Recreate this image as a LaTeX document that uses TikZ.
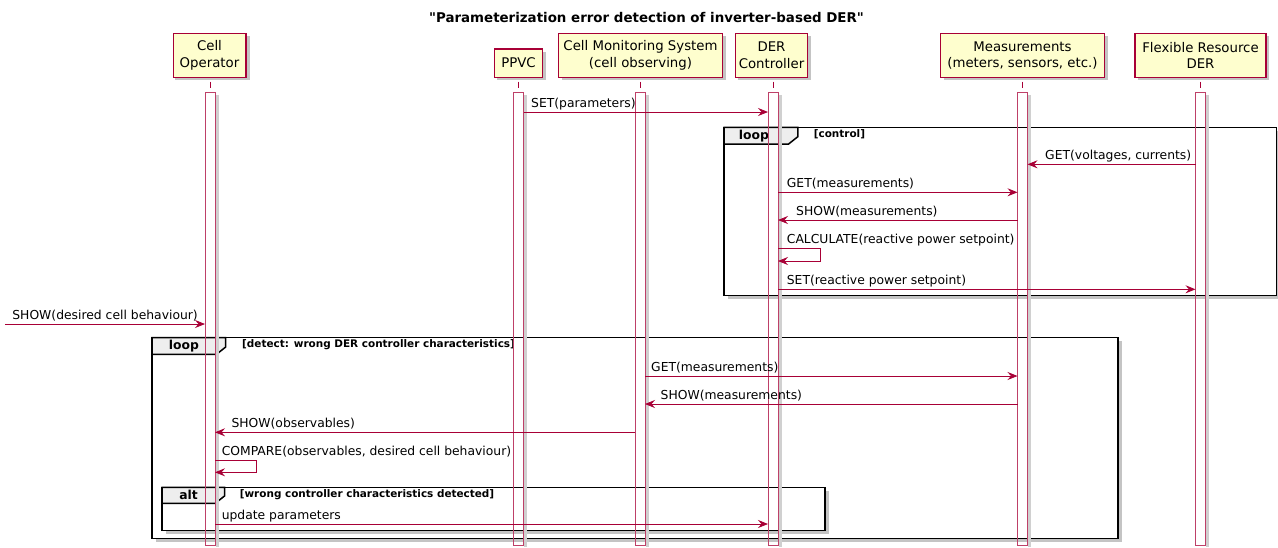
\documentclass[tikz,border=0pt]{standalone}
\usepackage{fontspec}
\setmainfont{DejaVu Sans}[Ligatures=TeXOff]
\usetikzlibrary{arrows.meta}
\definecolor{pu}{RGB}{168,0,54}
\definecolor{pfill}{RGB}{254,254,206}
\definecolor{tabfill}{RGB}{238,238,238}
\definecolor{shd}{RGB}{196,196,196}
\definecolor{barshd}{RGB}{208,208,208}
\begin{document}
\begin{tikzpicture}[x=1pt,y=-1pt,
  part/.style={draw=pu, color=pu, line width=1.4pt, fill=pfill, align=center, inner sep=0pt,
    font=\fontsize{13.3}{16.3}\selectfont, text=black},
  partshadow/.style={fill=shd, draw=none, inner sep=0pt},
  msg/.style={draw=pu, color=pu, line width=0.8pt, -{Stealth[length=10pt,width=8pt,inset=3.5pt]}},
  lbl/.style={font=\fontsize{12.35}{14}\selectfont, anchor=base west, inner sep=0pt, text=black},
  barbox/.style={draw=pu!75, line width=1pt},
  barshadow/.style={fill=barshd, draw=none},
  lifedash/.style={draw=pu, color=pu, line width=0.8pt},
  frm/.style={draw=black, line width=1.5pt, fill=white},
  frmshadow/.style={fill=shd, draw=none},
  tabbox/.style={draw=black, line width=1.5pt, fill=tabfill},
  kw/.style={font=\bfseries\fontsize{12.35}{14}\selectfont, anchor=base, inner sep=0pt},
  guard/.style={font=\bfseries\fontsize{10.45}{12}\selectfont, anchor=base west, inner sep=0pt},
  ttl/.style={font=\bfseries\fontsize{13.4}{16}\selectfont, anchor=base, inner sep=0pt}
]
\useasboundingbox (0,0) rectangle (1278,547);

% title
\node[ttl] (title) at (646.5,22.5) {"Parameterization error detection of inverter-based DER"};

% participant shadows
\fill[partshadow] (175.2,36.3) rectangle (249.8,80.3);
\fill[partshadow] (497.3,52) rectangle (545.7,80.3);
\fill[partshadow] (561.5,36.3) rectangle (725.5,80.3);
\fill[partshadow] (738.3,36.3) rectangle (810.7,80.3);
\fill[partshadow] (943.5,36.3) rectangle (1107.5,80.3);
\fill[partshadow] (1138,36.3) rectangle (1269,80.3);

% participants
\node[part, minimum width=72.6pt, minimum height=44pt] (co) at (209.5,55.3) {Cell\\Operator};
\node[part, minimum width=48.4pt, minimum height=28.3pt] (pp) at (518.5,63.15) {PPVC};
\node[part, minimum width=164pt, minimum height=44pt] (cms) at (640.5,55.3) {Cell Monitoring System\\(cell observing)};
\node[part, minimum width=72.4pt, minimum height=44pt] (der) at (771.5,55.3) {DER\\Controller};
\node[part, minimum width=164pt, minimum height=44pt] (meas) at (1022.5,55.3) {Measurements\\(meters, sensors, etc.)};
\node[part, minimum width=131pt, minimum height=44pt] (flex) at (1200.5,55.3) {Flexible Resource\\DER};

% frames (below bars)
\fill[frmshadow] (727.5,130.8) rectangle (1281,299.2);
\draw[frm] (724,127.3) rectangle (1276.5,295.7);
\draw[tabbox] (724,127.3) -- (797.8,127.3) -- (797.8,136.7) -- (788.6,144) -- (724,144) -- cycle;
\node[kw] (kwA) at (754,139) {loop};
\node[guard] (gA) at (813.6,137) {[control]};

\fill[frmshadow] (155.5,341.2) rectangle (1121.5,541.8);
\draw[frm] (152,337.7) rectangle (1118,538.3);
\draw[tabbox] (152,337.7) -- (225.7,337.7) -- (225.7,347) -- (216.5,354.3) -- (152,354.3) -- cycle;
\node[kw] (kwB) at (184,349.4) {loop};
\node[guard] (gB) at (242,347.4) {[detect: wrong DER controller characteristics]};

\fill[frmshadow] (165.5,490.8) rectangle (828.7,534.2);
\draw[frm] (162,487.3) rectangle (825.2,530.7);
\draw[tabbox] (162,487.3) -- (224.5,487.3) -- (224.5,496) -- (215.3,503.3) -- (162,503.3) -- cycle;
\node[kw] (kwC) at (188.5,499) {alt};
\node[guard] (gC) at (239.6,497) {[wrong controller characteristics detected]};

% lifelines and activation bars
\foreach \c in {210, 518.5, 640, 773, 1022.5, 1200.5}{
  \draw[lifedash] (\c,81.5) -- (\c,87.5);
  \fill[barshadow] (\c+5.6,95) rectangle (\c+8.5,547);
  \draw[barbox] (\c-5,92.5) rectangle (\c+5,545);
}

% message end points
\coordinate (m1a) at (523.5,112);   \coordinate (m1b) at (768,112);
\coordinate (m2a) at (1195.5,164.3); \coordinate (m2b) at (1027.5,164.3);
\coordinate (m3a) at (778,192.3);   \coordinate (m3b) at (1017.5,192.3);
\coordinate (m4a) at (1017.5,220);  \coordinate (m4b) at (778,220);
\coordinate (m5a) at (778,248.3);   \coordinate (m5b) at (778,261);
\coordinate (m6a) at (778,289.3);   \coordinate (m6b) at (1195.5,289.3);
\coordinate (m7a) at (4.9,324);     \coordinate (m7b) at (205,324);
\coordinate (m8a) at (645,376);     \coordinate (m8b) at (1017.5,376);
\coordinate (m9a) at (1017.5,404);  \coordinate (m9b) at (645,404);
\coordinate (m10a) at (635,432.3);  \coordinate (m10b) at (215,432.3);
\coordinate (m11a) at (215,460);    \coordinate (m11b) at (215,472.3);
\coordinate (m12a) at (215,524);    \coordinate (m12b) at (768,524);

% messages
\draw[msg] (m1a) -- (m1b);
\node[lbl] (l1) at (531,107) {SET(parameters)};
\draw[msg] (m2a) -- (m2b);
\node[lbl] (l2) at (1045,159.3) {GET(voltages, currents)};
\draw[msg] (m3a) -- (m3b);
\node[lbl] (l3) at (786.7,187.3) {GET(measurements)};
\draw[msg] (m4a) -- (m4b);
\node[lbl] (l4) at (796,215) {SHOW(measurements)};
\draw[msg] (m5a) -- ++(42.7,0) |- (m5b);
\node[lbl] (l5) at (786.7,243.6) {CALCULATE(reactive power setpoint)};
\draw[msg] (m6a) -- (m6b);
\node[lbl] (l6) at (786.7,284.3) {SET(reactive power setpoint)};
\draw[msg] (m7a) -- (m7b);
\node[lbl] (l7) at (12.2,319) {SHOW(desired cell behaviour)};
\draw[msg] (m8a) -- (m8b);
\node[lbl] (l8) at (651,371) {GET(measurements)};
\draw[msg] (m9a) -- (m9b);
\node[lbl] (l9) at (660.5,399) {SHOW(measurements)};
\draw[msg] (m10a) -- (m10b);
\node[lbl] (l10) at (231.4,427.3) {SHOW(observables)};
\draw[msg] (m11a) -- ++(41,0) |- (m11b);
\node[lbl] (l11) at (221.6,455.3) {COMPARE(observables, desired cell behaviour)};
\draw[msg] (m12a) -- (m12b);
\node[lbl] (l12) at (221.6,519) {update parameters};
\end{tikzpicture}
\end{document}
